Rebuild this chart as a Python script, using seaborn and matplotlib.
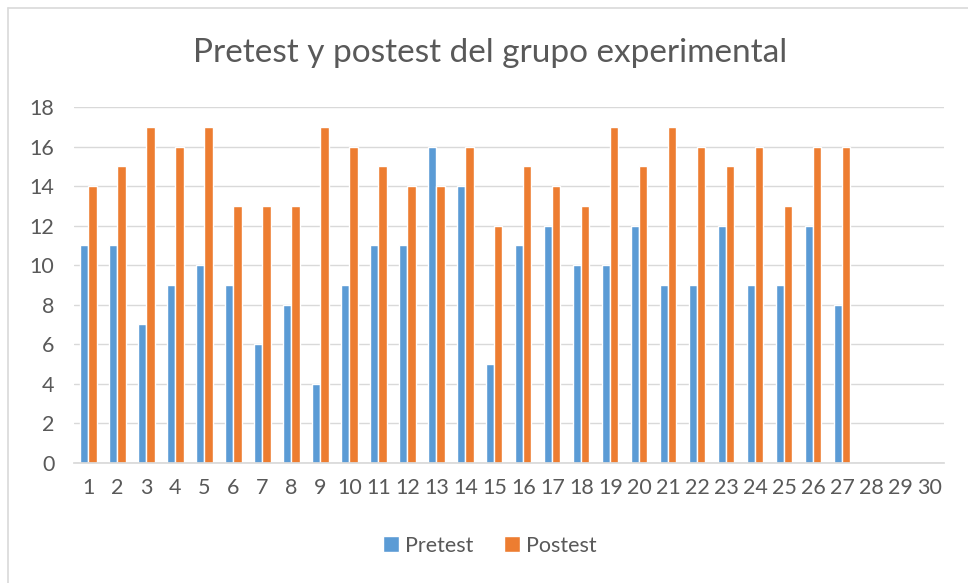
import pandas as pd
import seaborn as sns
import matplotlib.pyplot as plt
from matplotlib.lines import Line2D

students = [str(i) for i in range(1, 31)]
pretest = [11, 11, 7, 9, 10, 9, 6, 8, 4, 9, 11, 11, 16, 14, 5, 11, 12, 10, 10, 12, 9, 9, 12, 9, 9, 12, 8]
postest = [14, 15, 17, 16, 17, 13, 13, 13, 17, 16, 15, 14, 14, 16, 12, 15, 14, 13, 17, 15, 17, 16, 15, 16, 13, 16, 16]

n = len(pretest)
df = pd.DataFrame({
    "Alumno": students[:n] * 2,
    "Puntaje": pretest + postest,
    "Prueba": ["Pretest"] * n + ["Postest"] * n,
})

sns.set_theme(style="white")
plt.rcParams['font.family'] = ['Lato', 'DejaVu Sans']
gray = "#595959"

fig = plt.figure(figsize=(9.68, 5.83), dpi=100)
ax = fig.add_axes([0.0764, 0.206, 0.8986, 0.6105])

sns.barplot(data=df, x="Alumno", y="Puntaje", hue="Prueba", order=students,
            palette=["#5B9BD5", "#ED7D31"], width=0.56, saturation=1, ax=ax)

ax.set_ylim(0, 18)
ax.set_yticks(range(0, 19, 2))
ax.set_xlim(-0.5, len(students) - 0.5)
ax.yaxis.grid(True, color="#D9D9D9", linewidth=1)
ax.set_axisbelow(True)
for s in ["top", "right", "left"]:
    ax.spines[s].set_visible(False)
ax.spines["bottom"].set_color("#D9D9D9")
ax.tick_params(axis="both", colors=gray, labelsize=15.5, length=0)
ax.tick_params(axis="x", pad=11)
ax.tick_params(axis="y", pad=14)
ax.set_xlabel("")
ax.set_ylabel("")

fig.suptitle("Pretest y postest del grupo experimental", x=0.506, y=0.935,
             fontsize=24, color=gray)

ax.legend(loc="center", bbox_to_anchor=(0.478, -0.233), ncol=2, frameon=False,
          fontsize=15.5, labelcolor=gray, handlelength=0.75, handleheight=0.75,
          handletextpad=0.3, columnspacing=1.4)

fig.add_artist(Line2D([8 / 968, 8 / 968], [0, 1 - 8 / 583], color="#D9D9D9", lw=1.2))
fig.add_artist(Line2D([8 / 968, 1], [1 - 8 / 583, 1 - 8 / 583], color="#D9D9D9", lw=1.2))

fig.savefig("out.png", dpi=100)
